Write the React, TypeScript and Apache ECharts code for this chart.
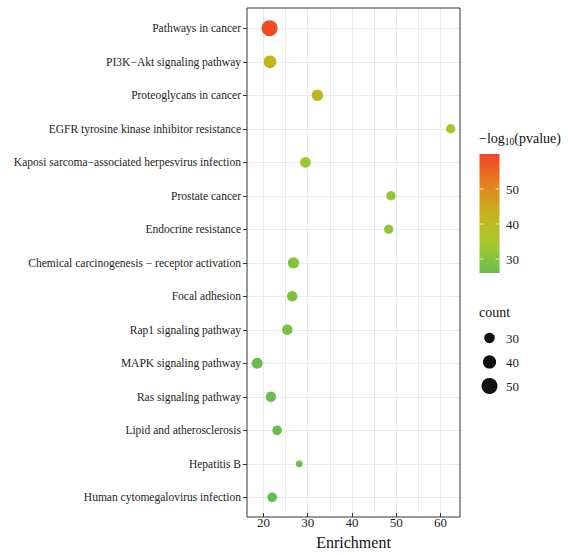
import React, { useEffect, useRef } from "react";
import * as echarts from "echarts";

const categories = [
  "Pathways in cancer",
  "PI3K\u2212Akt signaling pathway",
  "Proteoglycans in cancer",
  "EGFR tyrosine kinase inhibitor resistance",
  "Kaposi sarcoma\u2212associated herpesvirus infection",
  "Prostate cancer",
  "Endocrine resistance",
  "Chemical carcinogenesis \u2212 receptor activation",
  "Focal adhesion",
  "Rap1 signaling pathway",
  "MAPK signaling pathway",
  "Ras signaling pathway",
  "Lipid and atherosclerosis",
  "Hepatitis B",
  "Human cytomegalovirus infection",
];
const enrichment = [21.4, 21.5, 32.2, 62.3, 29.5, 48.8, 48.3, 26.8, 26.5, 25.4, 18.6, 21.7, 23.1, 28.1, 22.0];
const counts = [50, 38, 34, 26, 31, 26, 26, 33, 30, 30, 32, 30, 27, 17, 27];
const logp = [59, 42, 41, 37, 33, 32, 32, 30, 29, 28, 26, 26.5, 26, 27, 26];

const xTicks = [20, 30, 40, 50, 60];
const colorTicks = [30, 40, 50];
const sizeTicks = [30, 40, 50];
const colorMin = 26;
const colorMax = 60;
const colorRange = ["#66bd4c", "#a8c92e", "#c6b21d", "#e3801f", "#f04526"];

const FONT = "Liberation Serif";

const sizeOf = (c: number) => 10.5 + (c - 30) * 0.275;

export default function App() {
  const ref = useRef<HTMLDivElement>(null);
  useEffect(() => {
    if (!ref.current) return;
    const chart = echarts.init(ref.current, undefined, { renderer: "svg" });

    const L = 247, T = 8, W = 213, H = 509;
    const dataTop = 28.3, dataH = 469;

    // colorbar geometry
    const cbX = 479.5, cbY = 154, cbW = 20, cbH = 119;
    const cbStops = colorRange.map((c, i) => ({ offset: 1 - i / (colorRange.length - 1), color: c })).reverse();

    const graphics: any[] = [
      {
        type: "rect",
        z: 100,
        shape: { x: L, y: T, width: W, height: H },
        style: { fill: "none", stroke: "#333", lineWidth: 1 },
      },
      {
        type: "text",
        x: 479,
        y: 138,
        style: {
          text: "{a|\u2212log}{b|10}{a|(pvalue)}",
          verticalAlign: "middle",
          rich: {
            a: { fontFamily: FONT, fontSize: 14, fill: "#111" },
            b: { fontFamily: FONT, fontSize: 9.5, fill: "#111", padding: [7, 0, 0, 0] },
          },
        },
      },
      {
        type: "rect",
        shape: { x: cbX, y: cbY, width: cbW, height: cbH },
        style: {
          fill: new echarts.graphic.LinearGradient(0, 0, 0, 1, cbStops),
        },
      },
      {
        type: "text",
        x: 479,
        y: 312,
        style: { text: "count", fontFamily: FONT, fontSize: 14, fill: "#111", verticalAlign: "middle" },
      },
    ];
    colorTicks.forEach((v) => {
      const y = cbY + cbH - ((v - colorMin) / (colorMax - colorMin)) * cbH;
      graphics.push({
        type: "line",
        shape: { x1: cbX, y1: y, x2: cbX + 4, y2: y },
        style: { stroke: "rgba(255,255,255,0.8)", lineWidth: 1 },
      });
      graphics.push({
        type: "line",
        shape: { x1: cbX + cbW - 4, y1: y, x2: cbX + cbW, y2: y },
        style: { stroke: "rgba(255,255,255,0.8)", lineWidth: 1 },
      });
      graphics.push({
        type: "text",
        x: 506,
        y,
        style: { text: String(v), fontFamily: FONT, fontSize: 13, fill: "#222", verticalAlign: "middle" },
      });
    });
    sizeTicks.forEach((v, i) => {
      const y = 338 + i * 24;
      graphics.push({
        type: "circle",
        shape: { cx: 489.5, cy: y, r: sizeOf(v) / 2 },
        style: { fill: "#111" },
      });
      graphics.push({
        type: "text",
        x: 506,
        y,
        style: { text: String(v), fontFamily: FONT, fontSize: 13, fill: "#222", verticalAlign: "middle" },
      });
    });

    const gridLine = { show: true, lineStyle: { color: "#ebebeb", width: 1 } };

    chart.setOption({
      animation: false,
      backgroundColor: "#ffffff",
      textStyle: { fontFamily: FONT },
      grid: [
        { left: L, top: T, width: W, height: H, show: false },
        { left: L, top: dataTop, width: W, height: dataH, show: false },
      ],
      xAxis: [
        {
          gridIndex: 0,
          type: "value",
          min: 16.3,
          max: 64.4,
          axisLine: { show: false },
          axisTick: { show: true, length: 4, lineStyle: { color: "#333" }, customValues: xTicks },
          axisLabel: {
            customValues: xTicks,
            fontFamily: FONT,
            fontSize: 13,
            color: "#222",
            margin: 3,
          },
          splitLine: gridLine,
          minorTick: { show: false, splitNumber: 2 },
          minorSplitLine: gridLine,
          name: "Enrichment",
          nameLocation: "middle",
          nameGap: 21,
          nameTextStyle: { fontFamily: FONT, fontSize: 16, color: "#111" },
        },
        {
          gridIndex: 1,
          type: "value",
          min: 16.3,
          max: 64.4,
          show: false,
        },
      ],
      yAxis: [
        { gridIndex: 0, type: "value", show: false, min: 0, max: 1 },
        {
          gridIndex: 1,
          type: "category",
          data: categories,
          inverse: true,
          boundaryGap: false,
          axisLine: { show: false },
          axisTick: { show: true, length: 4, lineStyle: { color: "#333" } },
          axisLabel: { fontFamily: FONT, fontSize: 11.5, color: "#222", margin: 6 },
          splitLine: gridLine,
        },
      ],
      visualMap: {
        type: "continuous",
        show: false,
        dimension: 3,
        min: colorMin,
        max: colorMax,
        seriesIndex: 0,
        inRange: { color: colorRange },
      },
      series: [
        {
          type: "scatter",
          xAxisIndex: 1,
          yAxisIndex: 1,
          data: categories.map((c, i) => [enrichment[i], c, counts[i], logp[i]]),
          symbolSize: (v: any) => sizeOf(v[2]),
          itemStyle: { opacity: 1 },
        },
      ],
      graphic: graphics,
    });
    return () => chart.dispose();
  }, []);
  return (
    <div
      ref={ref}
      style={{ position: "fixed", left: 0, top: 0, width: 568, height: 555 }}
    />
  );
}
